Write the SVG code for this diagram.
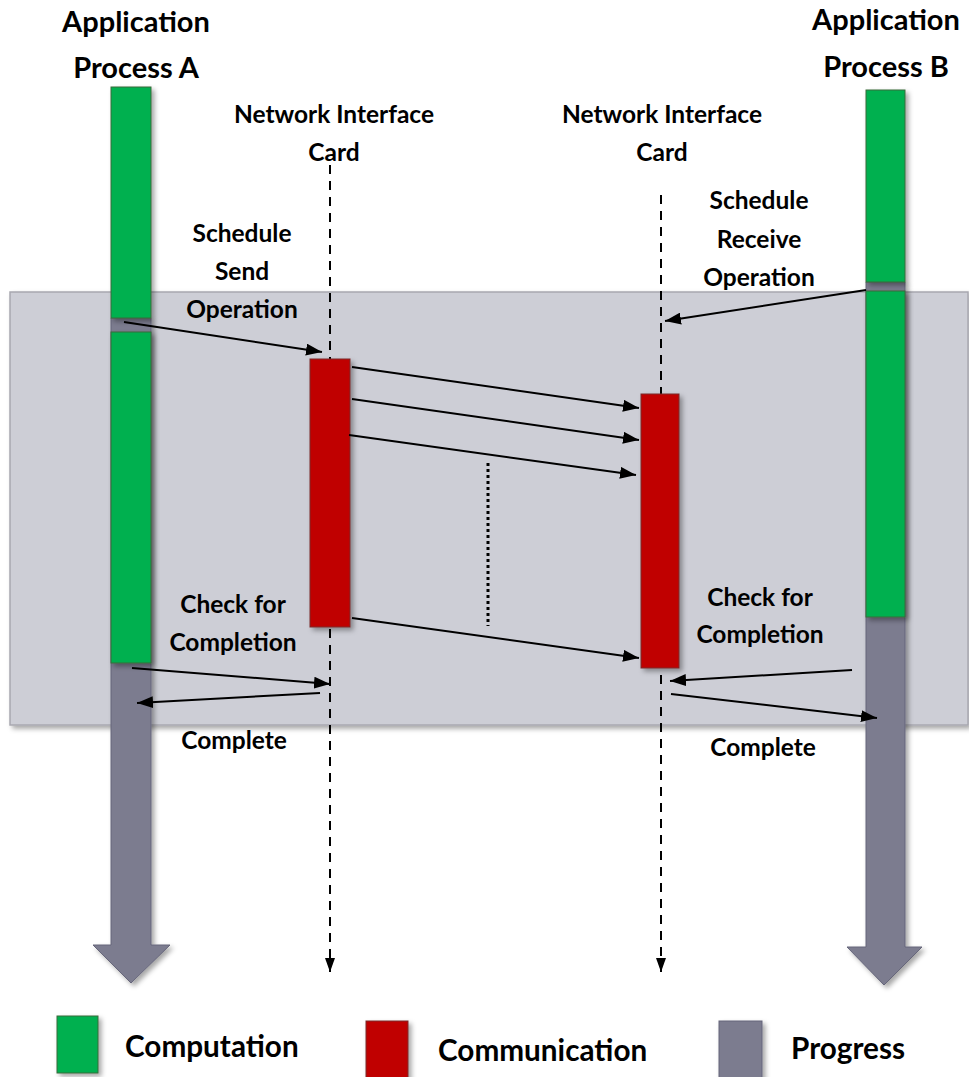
<svg xmlns="http://www.w3.org/2000/svg" width="969" height="1077" viewBox="0 0 969 1077">
<style>
.t{font-family:Lato,"Open Sans","Liberation Sans",sans-serif;font-weight:700;fill:#000;text-anchor:middle}
.h{font-size:29px}
.m{font-size:24.5px}
.lg{font-size:29.7px;text-anchor:start}
.comp{fill:#00B050;stroke:#3a6b3a;stroke-width:1}
.comm{fill:#C00000;stroke:#7a2a2a;stroke-width:1}
.prog{fill:#7B7B8F;stroke:#66667a;stroke-width:1}
.c{stroke:#000;stroke-width:2;fill:none;marker-end:url(#ah)}
.nic{stroke:#000;stroke-width:2;fill:none;stroke-dasharray:9 7;marker-end:url(#sh)}
</style>
<defs>
<marker id="ah" viewBox="0 0 16 12" refX="16" refY="6" markerWidth="16" markerHeight="12" markerUnits="userSpaceOnUse" orient="auto"><path d="M0,0 L16,6 L0,12 z" fill="#000"/></marker>
<marker id="sh" viewBox="0 0 10 14" refX="5" refY="14" markerWidth="10" markerHeight="14" markerUnits="userSpaceOnUse" orient="0"><path d="M0,0 L10,0 L5,14 z" fill="#000"/></marker>
<filter id="sd" x="-30%" y="-10%" width="160%" height="120%"><feDropShadow dx="3" dy="3" stdDeviation="2.5" flood-color="#000" flood-opacity="0.35"/></filter>
</defs>
<rect x="10" y="292" width="958" height="433" fill="#CDCED6" stroke="#a8a8b0" stroke-width="1.5" filter="url(#sd)"/>
<g id="processA">
<path class="prog" d="M111,318 H151 V945 H170 L131,983 L93,945 H111 Z" filter="url(#sd)"/>
<rect class="comp" x="111" y="87" width="40" height="231" filter="url(#sd)"/>
<rect class="comp" x="111" y="332" width="40" height="331" filter="url(#sd)"/>
<text class="t h" x="136" y="32">Application</text>
<text class="t h" x="136" y="78">Process A</text>
</g>
<g id="processB">
<path class="prog" d="M866,282 H905 V947 H922 L884,985 L847,947 H866 Z" filter="url(#sd)"/>
<rect class="comp" x="866" y="90" width="39" height="192" filter="url(#sd)"/>
<rect class="comp" x="866" y="291" width="39" height="326" filter="url(#sd)"/>
<text class="t h" x="886" y="30">Application</text>
<text class="t h" x="886" y="77">Process B</text>
</g>
<g id="nicA">
<line class="nic" x1="330" y1="165" x2="330" y2="972"/>
<rect class="comm" x="310" y="359" width="40" height="268" filter="url(#sd)"/>
<text class="t m" x="334" y="123">Network Interface</text>
<text class="t m" x="334" y="161">Card</text>
</g>
<g id="nicB">
<line class="nic" x1="661" y1="195" x2="661" y2="972"/>
<rect class="comm" x="641" y="394" width="38" height="274" filter="url(#sd)"/>
<text class="t m" x="662" y="123">Network Interface</text>
<text class="t m" x="662" y="161">Card</text>
</g>
<g id="labels">
<text class="t m" x="242" y="242">Schedule</text>
<text class="t m" x="242" y="280">Send</text>
<text class="t m" x="242" y="318">Operation</text>
<text class="t m" x="759" y="209">Schedule</text>
<text class="t m" x="759" y="248">Receive</text>
<text class="t m" x="759" y="286">Operation</text>
<text class="t m" x="233" y="613">Check for</text>
<text class="t m" x="233" y="651">Completion</text>
<text class="t m" x="234" y="749">Complete</text>
<text class="t m" x="760" y="606">Check for</text>
<text class="t m" x="760" y="643">Completion</text>
<text class="t m" x="763" y="756">Complete</text>
</g>
<g id="connectors">
<line class="c" x1="124" y1="322" x2="322" y2="352"/>
<line class="c" x1="866" y1="290" x2="665" y2="321"/>
<line class="c" x1="352" y1="367" x2="639" y2="408"/>
<line class="c" x1="352" y1="399" x2="639" y2="440"/>
<line class="c" x1="349" y1="435" x2="636" y2="475"/>
<line class="c" x1="352" y1="618" x2="639" y2="658"/>
<line class="c" x1="132" y1="668" x2="330" y2="684"/>
<line class="c" x1="320" y1="693" x2="137" y2="703"/>
<line class="c" x1="852" y1="670" x2="670" y2="681"/>
<line class="c" x1="671" y1="694" x2="877" y2="718"/>
<line x1="488" y1="463" x2="488" y2="626" stroke="#000" stroke-width="3" stroke-dasharray="3 3"/>
</g>
<g id="legend">
<rect class="comp" x="57" y="1016" width="41" height="57" filter="url(#sd)"/>
<text class="t lg" x="125" y="1057">Computation</text>
<rect class="comm" x="366" y="1021" width="42" height="60" filter="url(#sd)"/>
<text class="t lg" x="438" y="1061">Communication</text>
<rect class="prog" x="719" y="1021" width="43" height="60" filter="url(#sd)"/>
<text class="t lg" x="791" y="1059">Progress</text>
</g>
</svg>
